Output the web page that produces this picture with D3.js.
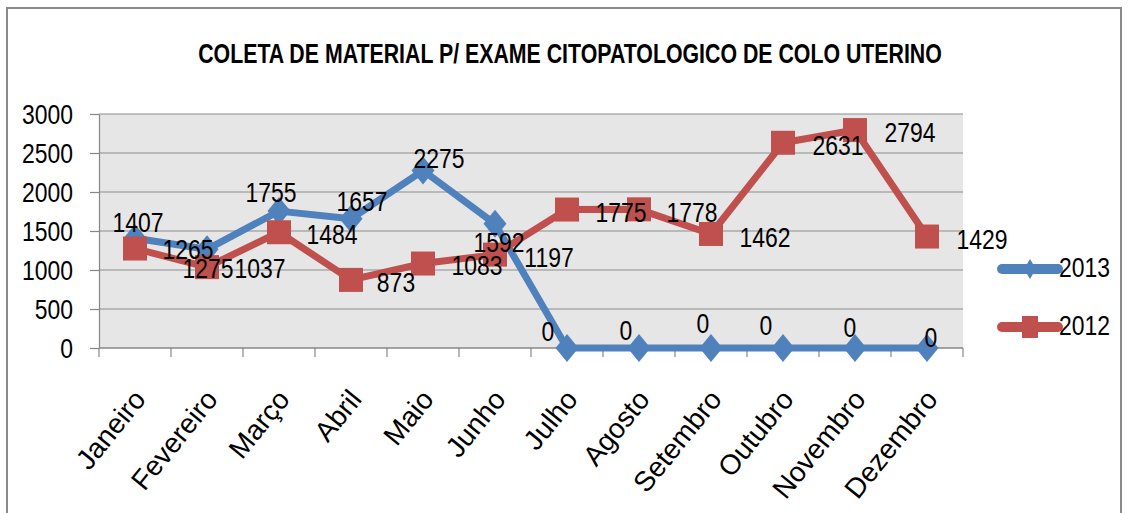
<!DOCTYPE html>
<html>
<head>
<meta charset="utf-8">
<script src="https://cdn.jsdelivr.net/npm/d3@7"></script>
<style>
  body { margin: 0; background: #fff; }
  text { font-family: "Liberation Sans", Arial, sans-serif; fill: #000; }
</style>
</head>
<body>
<div id="chart"></div>
<script>
var months = ["Janeiro", "Fevereiro", "Março", "Abril", "Maio", "Junho",
              "Julho", "Agosto", "Setembro", "Outubro", "Novembro", "Dezembro"];
var values2013 = [1407, 1265, 1755, 1657, 2275, 1592, 0, 0, 0, 0, 0, 0];
var values2012 = [1275, 1037, 1484, 873, 1083, 1197, 1775, 1778, 1462, 2631, 2794, 1429];
var seriesNames = ["2013", "2012"];
var yTicks = [0, 500, 1000, 1500, 2000, 2500, 3000];

// label nudges, the labels in the original sheet were dragged by hand
var shift2013 = [[3,-16],[-19,0],[-8,-19],[11,-18],[16,-13],[4,18],[-19,-17],[-13,-18],[-8,-25],[-17,-23],[-5,-21],[4,-11]];
var shift2012 = [[73,19],[53,1],[53,2],[45,2],[54,1],[54,2],[54,2],[53,3],[54,3],[55,2],[55,2],[55,2]];

var blue = "#4f81bd", red = "#c0504d";
var W = 1130, H = 513;

var svg = d3.select("#chart").append("svg")
    .attr("width", W)
    .attr("height", H);

// outer chart border
svg.append("rect")
    .attr("x", 7).attr("y", 8)
    .attr("width", 1114).attr("height", 520)
    .attr("fill", "#fff")
    .attr("stroke", "#8a8a8a")
    .attr("stroke-width", 2);

// title - squeezed horizontally to the width of the original
var title = svg.append("text")
    .attr("text-anchor", "middle")
    .style("font-weight", "bold")
    .style("font-size", "28px")
    .text("COLETA DE MATERIAL P/ EXAME CITOPATOLOGICO DE COLO UTERINO");
var tw = title.node().getComputedTextLength();
title.attr("transform", "translate(570,63) scale(" + (744 / tw) + ",1)");

var x = d3.scaleBand().domain(months).range([99, 963]).padding(0);
var y = d3.scaleLinear().domain([0, 3000]).range([348, 114]);
function cx(i) { return x(months[i]) + x.bandwidth() / 2; }

// plot area
svg.append("rect")
    .attr("x", x.range()[0]).attr("y", y(3000))
    .attr("width", x.range()[1] - x.range()[0])
    .attr("height", y(0) - y(3000))
    .attr("fill", "#e6e6e6");

// gridlines
svg.append("g").selectAll("line")
    .data(yTicks.filter(function(d) { return d > 0; }))
    .enter().append("line")
    .attr("x1", x.range()[0]).attr("x2", x.range()[1])
    .attr("y1", function(d) { return y(d); })
    .attr("y2", function(d) { return y(d); })
    .attr("stroke", "#8c8c8c")
    .attr("stroke-width", 1.2);

// y axis
var yAxis = svg.append("g")
    .attr("transform", "translate(" + x.range()[0] + ",0)")
    .call(d3.axisLeft(y).tickValues(yTicks).tickFormat(d3.format("d")).tickSize(9).tickSizeOuter(0));
yAxis.select(".domain").attr("stroke", "#868686").attr("stroke-width", 1.2);
yAxis.selectAll(".tick line").attr("stroke", "#868686").attr("stroke-width", 1.2);
yAxis.selectAll("text")
    .attr("x", null).attr("dy", null)
    .attr("text-anchor", "end")
    .attr("transform", "translate(-26,9) scale(0.85,1)")
    .style("font-size", "27px");

// x axis line and boundary ticks
var bounds = months.map(function(m) { return x(m); }).concat([x.range()[1]]);
svg.append("line")
    .attr("x1", x.range()[0]).attr("x2", x.range()[1])
    .attr("y1", y(0)).attr("y2", y(0))
    .attr("stroke", "#868686").attr("stroke-width", 1.5);
svg.append("g").selectAll("line")
    .data(bounds).enter().append("line")
    .attr("x1", function(d) { return d; }).attr("x2", function(d) { return d; })
    .attr("y1", y(0)).attr("y2", y(0) + 9)
    .attr("stroke", "#868686").attr("stroke-width", 1.2);

// x labels
var xAxis = svg.append("g")
    .attr("transform", "translate(0," + y(0) + ")")
    .call(d3.axisBottom(x).tickSize(0));
xAxis.select(".domain").remove();
xAxis.selectAll("text")
    .attr("y", null).attr("dy", null)
    .attr("text-anchor", "end")
    .attr("transform", "translate(12,52) rotate(-51)")
    .style("font-size", "28px");

// series lines
var line = d3.line()
    .x(function(d, i) { return cx(i); })
    .y(function(d) { return y(d); });

function drawSeries(vals, color) {
  svg.append("path")
      .datum(vals)
      .attr("fill", "none")
      .attr("stroke", color)
      .attr("stroke-width", 7)
      .attr("stroke-linejoin", "round")
      .attr("d", line);
}
drawSeries(values2013, blue);

// diamonds for 2013
svg.append("g").selectAll("path")
    .data(values2013).enter().append("path")
    .attr("d", "M0,-14L11.5,0L0,14L-11.5,0Z")
    .attr("transform", function(d, i) { return "translate(" + cx(i) + "," + y(d) + ")"; })
    .attr("fill", blue);

drawSeries(values2012, red);

// squares for 2012
svg.append("g").selectAll("rect")
    .data(values2012).enter().append("rect")
    .attr("x", function(d, i) { return cx(i) - 12; })
    .attr("y", function(d) { return y(d) - 12; })
    .attr("width", 24).attr("height", 24)
    .attr("fill", red);

// data labels
function drawLabels(vals, shift) {
  svg.append("g").selectAll("text")
      .data(vals).enter().append("text")
      .attr("text-anchor", "middle")
      .attr("transform", function(d, i) {
        return "translate(" + (cx(i) + shift[i][0]) + "," + (y(d) + shift[i][1] + 10) + ") scale(0.85,1)";
      })
      .style("font-size", "27px")
      .text(function(d) { return d; });
}
drawLabels(values2013, shift2013);
drawLabels(values2012, shift2012);

// legend
var legend = svg.append("g").selectAll("g")
    .data(seriesNames).enter().append("g")
    .attr("transform", function(d, i) { return "translate(1002," + (269 + i * 58) + ")"; });
legend.append("line")
    .attr("x1", 0).attr("x2", 56)
    .attr("stroke", function(d, i) { return i ? red : blue; })
    .attr("stroke-width", 10)
    .attr("stroke-linecap", "round");
legend.filter(function(d, i) { return i === 0; }).append("path")
    .attr("d", "M28,-10L34,0L28,10L22,0Z")
    .attr("fill", blue);
legend.filter(function(d, i) { return i === 1; }).append("rect")
    .attr("x", 20).attr("y", -11).attr("width", 16).attr("height", 22)
    .attr("fill", red);
legend.append("text")
    .attr("transform", "translate(57,8) scale(0.85,1)")
    .style("font-size", "27px")
    .text(function(d) { return d; });
</script>
</body>
</html>
